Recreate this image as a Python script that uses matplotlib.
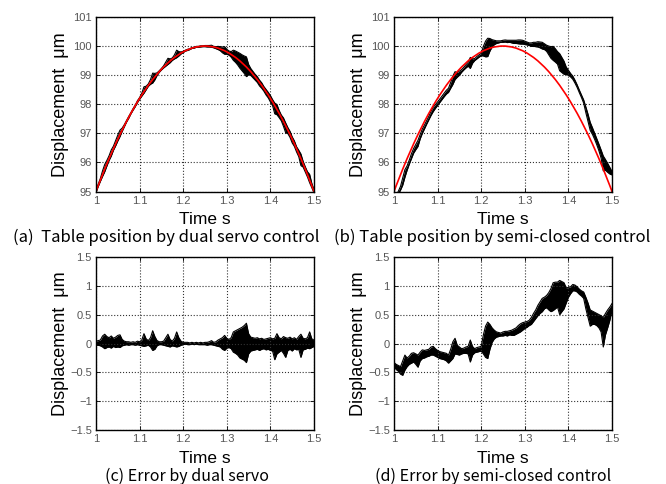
import numpy as np
import matplotlib
matplotlib.use('Agg')
import matplotlib.pyplot as plt

# time grid of the recording, 1.0 .. 1.5 s every 5 ms
t = np.linspace(1.0, 1.5, 101)

# commanded table position (red), um
ref = [95.00, 95.20, 95.39, 95.58, 95.77, 95.95, 96.13, 96.30, 96.47, 96.64,
       96.80, 96.96, 97.11, 97.26, 97.41, 97.55, 97.69, 97.82, 97.95, 98.08,
       98.20, 98.32, 98.43, 98.54, 98.65, 98.75, 98.85, 98.94, 99.03, 99.12,
       99.20, 99.28, 99.35, 99.42, 99.49, 99.55, 99.61, 99.66, 99.71, 99.76,
       99.80, 99.84, 99.87, 99.90, 99.93, 99.95, 99.97, 99.98, 99.99, 100.00,
       100.00, 100.00, 99.99, 99.98, 99.97, 99.95, 99.93, 99.90, 99.87, 99.84,
       99.80, 99.76, 99.71, 99.66, 99.61, 99.55, 99.49, 99.42, 99.35, 99.28,
       99.20, 99.12, 99.03, 98.94, 98.85, 98.75, 98.65, 98.54, 98.43, 98.32,
       98.20, 98.08, 97.95, 97.82, 97.69, 97.55, 97.41, 97.26, 97.11, 96.96,
       96.80, 96.64, 96.47, 96.30, 96.13, 95.95, 95.77, 95.58, 95.39, 95.20,
       95.00]

# error by dual servo: upper / lower envelope of the noisy trace, um
dual_hi = [0.04, 0.05, 0.06, 0.13, 0.16, 0.12, 0.10, 0.13, 0.09, 0.11,
           0.14, 0.15, 0.07, 0.04, 0.03, 0.03, 0.02, 0.03, 0.02, 0.04,
           0.03, 0.06, 0.17, 0.08, 0.05, 0.10, 0.22, 0.12, 0.05, 0.03,
           0.03, 0.04, 0.10, 0.16, 0.07, 0.04, 0.09, 0.20, 0.10, 0.04,
           0.02, 0.02, 0.02, 0.01, 0.02, 0.01, 0.02, 0.01, 0.02, 0.01,
           0.02, 0.02, 0.03, 0.05, 0.02, 0.03, 0.06, 0.08, 0.10, 0.14,
           0.09, 0.07, 0.10, 0.20, 0.22, 0.24, 0.26, 0.28, 0.31, 0.35,
           0.17, 0.11, 0.10, 0.09, 0.10, 0.08, 0.09, 0.07, 0.08, 0.09,
           0.10, 0.08, 0.09, 0.17, 0.10, 0.08, 0.12, 0.10, 0.09, 0.11,
           0.08, 0.10, 0.07, 0.12, 0.16, 0.09, 0.08, 0.10, 0.20, 0.08,
           0.06]
dual_lo = [-0.03, -0.03, -0.04, -0.06, -0.09, -0.07, -0.06, -0.08, -0.05, -0.07,
           -0.06, -0.07, -0.04, -0.03, -0.02, -0.03, -0.02, -0.02, -0.03, -0.02,
           -0.03, -0.04, -0.05, -0.04, -0.03, -0.06, -0.12, -0.10, -0.04, -0.02,
           -0.02, -0.03, -0.04, -0.05, -0.06, -0.04, -0.05, -0.06, -0.05, -0.03,
           -0.02, -0.01, -0.02, -0.02, -0.01, -0.02, -0.01, -0.02, -0.02, -0.02,
           -0.02, -0.03, -0.02, -0.02, -0.03, -0.04, -0.05, -0.06, -0.10, -0.12,
           -0.08, -0.07, -0.09, -0.15, -0.17, -0.20, -0.25, -0.27, -0.29, -0.33,
           -0.18, -0.13, -0.12, -0.11, -0.10, -0.12, -0.10, -0.09, -0.11, -0.10,
           -0.12, -0.13, -0.28, -0.18, -0.15, -0.12, -0.17, -0.24, -0.12, -0.10,
           -0.13, -0.09, -0.11, -0.10, -0.24, -0.11, -0.10, -0.08, -0.09, -0.07,
           -0.05]

# error by semi-closed control: upper / lower envelope, um
semi_hi = [-0.33, -0.36, -0.38, -0.40, -0.30, -0.20, -0.25, -0.22, -0.17, -0.16,
           -0.18, -0.20, -0.15, -0.11, -0.12, -0.11, -0.10, -0.06, -0.05, -0.09,
           -0.12, -0.14, -0.15, -0.16, -0.17, -0.20, -0.10, 0.03, 0.09, -0.03,
           -0.06, -0.09, -0.08, -0.06, -0.05, 0.06, -0.05, -0.09, -0.07, -0.06,
           -0.05, 0.15, 0.30, 0.37, 0.33, 0.27, 0.23, 0.20, 0.19, 0.18,
           0.20, 0.21, 0.21, 0.22, 0.23, 0.25, 0.27, 0.31, 0.34, 0.36,
           0.37, 0.38, 0.40, 0.45, 0.52, 0.58, 0.66, 0.72, 0.78, 0.80,
           0.83, 0.88, 0.95, 1.05, 1.06, 1.06, 1.09, 1.07, 1.05, 0.96,
           0.97, 0.98, 1.02, 1.01, 0.98, 0.94, 0.91, 0.89, 0.80, 0.70,
           0.58, 0.56, 0.54, 0.52, 0.50, 0.48, 0.45, 0.52, 0.58, 0.63,
           0.69]
semi_lo = [-0.40, -0.45, -0.48, -0.53, -0.55, -0.46, -0.40, -0.36, -0.34, -0.32,
           -0.36, -0.41, -0.30, -0.26, -0.25, -0.23, -0.22, -0.20, -0.20, -0.22,
           -0.24, -0.26, -0.27, -0.28, -0.30, -0.34, -0.30, -0.26, -0.18, -0.19,
           -0.20, -0.18, -0.17, -0.17, -0.18, -0.32, -0.20, -0.16, -0.15, -0.14,
           -0.13, -0.18, -0.24, -0.26, -0.10, 0.02, 0.08, 0.11, 0.12, 0.13,
           0.13, 0.14, 0.13, 0.15, 0.14, 0.14, 0.16, 0.18, 0.20, 0.23,
           0.26, 0.28, 0.31, 0.33, 0.38, 0.43, 0.48, 0.52, 0.55, 0.60,
           0.62, 0.58, 0.55, 0.57, 0.60, 0.63, 0.50, 0.55, 0.60, 0.70,
           0.80, 0.86, 0.91, 0.91, 0.89, 0.85, 0.82, 0.78, 0.60, 0.45,
           0.30, 0.33, 0.33, 0.31, 0.27, 0.20, -0.06, 0.15, 0.27, 0.40,
           0.57]

x_ticks = [1.0, 1.1, 1.2, 1.3, 1.4, 1.5]
x_labels = ['1', '1.1', '1.2', '1.3', '1.4', '1.5']
pos_ticks = [95, 96, 97, 98, 99, 100, 101]
err_ticks = [-1.5, -1, -0.5, 0, 0.5, 1, 1.5]
err_labels = ['\u22121.5', '\u22121', '\u22120.5', '0', '0.5', '1', '1.5']

captions = ['(a)  Table position by dual servo control',
            '(b) Table position by semi-closed control',
            '(c) Error by dual servo',
            '(d) Error by semi-closed control']

lab_font = 'Liberation Sans'
cap_font = ['Noto Sans CJK JP', 'DejaVu Sans']


def style(ax, yticks, ylabels, xlab_y):
    ax.set_xlim(1.0, 1.5)
    ax.set_xticks(x_ticks)
    ax.set_xticklabels(x_labels)
    ax.set_yticks(yticks)
    ax.set_yticklabels(ylabels)
    ax.set_ylim(yticks[0], yticks[-1])
    ax.grid(True, linestyle=':', color='#333333', linewidth=0.8)
    ax.tick_params(direction='in', length=3, width=0.6, labelsize=8,
                   labelcolor='#555555', top=True, right=True, pad=3)
    for lab in ax.get_xticklabels() + ax.get_yticklabels():
        lab.set_family(lab_font)
    for s in ax.spines.values():
        s.set_linewidth(1.0)
        s.set_color('black')
    ax.set_xlabel('Time s', fontsize=12.5, family=lab_font)
    ax.set_ylabel('Displacement  \u03bcm', fontsize=13, family=lab_font)
    ax.xaxis.set_label_coords(0.5, xlab_y)
    ax.xaxis.label.set_verticalalignment('baseline')
    ax.yaxis.set_label_coords(-0.165, 0.5)
    ax.yaxis.label.set_verticalalignment('center')


def band(ax, lo, hi):
    ax.fill_between(t, lo, hi, color='black', linewidth=0)
    ax.plot(t, lo, color='black', linewidth=0.8)
    ax.plot(t, hi, color='black', linewidth=0.8)


fig = plt.figure(figsize=(6.66, 4.84), dpi=100)
W, H = 666.0, 484.0
ax_a = fig.add_axes([96 / W, 1 - 191.5 / H, 218 / W, 174.5 / H])
ax_b = fig.add_axes([394 / W, 1 - 191.5 / H, 218 / W, 174.5 / H])
ax_c = fig.add_axes([96 / W, 1 - 430.3 / H, 218 / W, 173.6 / H])
ax_d = fig.add_axes([394 / W, 1 - 430.3 / H, 218 / W, 173.6 / H])

ref_arr = np.array(ref)

band(ax_a, ref_arr + np.array(dual_lo), ref_arr + np.array(dual_hi))
ax_a.plot(t, ref, color='red', linewidth=1.2)
style(ax_a, pos_ticks, [str(v) for v in pos_ticks], -0.186)

band(ax_b, ref_arr + np.array(semi_lo), ref_arr + np.array(semi_hi))
ax_b.plot(t, ref, color='red', linewidth=1.2)
style(ax_b, pos_ticks, [str(v) for v in pos_ticks], -0.186)

band(ax_c, dual_lo, dual_hi)
style(ax_c, err_ticks, err_labels, -0.190)

band(ax_d, semi_lo, semi_hi)
style(ax_d, err_ticks, err_labels, -0.190)

fig.text(166 / W, 1 - 241.5 / H, captions[0], ha='center', va='baseline',
         fontsize=12, family=cap_font)
fig.text(334 / W, 1 - 241.5 / H, captions[1], ha='left', va='baseline',
         fontsize=12, family=cap_font)
fig.text(187 / W, 1 - 481 / H, captions[2], ha='center', va='baseline',
         fontsize=11.5, family=cap_font)
fig.text(493 / W, 1 - 481 / H, captions[3], ha='center', va='baseline',
         fontsize=11.5, family=cap_font)

fig.savefig('out.png', dpi=100)
